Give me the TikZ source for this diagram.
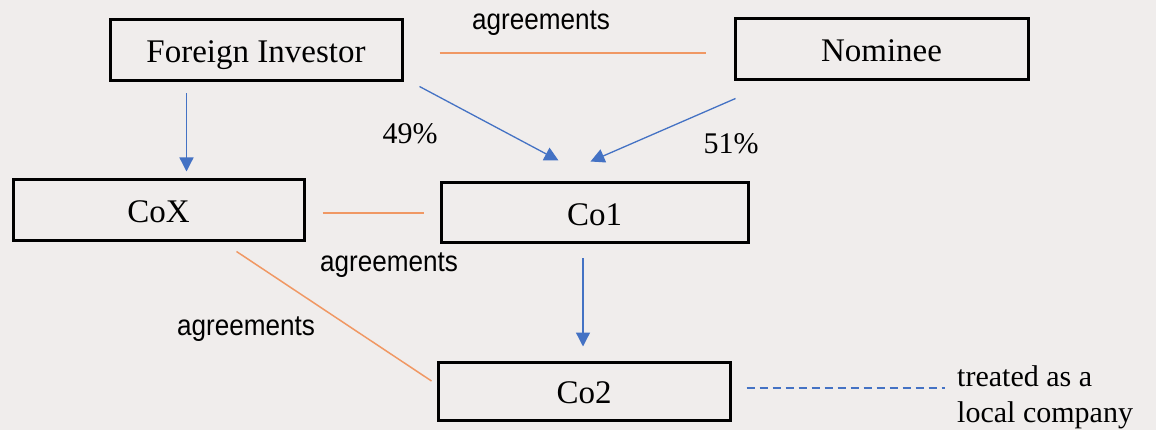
\documentclass[tikz,border=0pt]{standalone}
\usepackage{fontspec}
\setmainfont{Liberation Serif}
\newfontfamily\agfont[FakeStretch=0.9]{Liberation Sans}
\usetikzlibrary{arrows.meta}
\definecolor{bgc}{RGB}{240,237,236}
\definecolor{arrblue}{RGB}{68,114,196}
\definecolor{agorange}{RGB}{240,152,100}
\tikzset{
  box/.style={draw=black, line width=3pt, inner sep=0pt, text height=25pt, text depth=0pt, font=\fontsize{33}{38}\selectfont},
  own/.style={draw=arrblue, line width=1.3pt, -{Triangle[width=14pt,length=14pt]}},
  agree/.style={draw=agorange, line width=1.5pt},
  aglabel/.style={font=\agfont\fontsize{29}{34}\selectfont, anchor=base, inner sep=0pt},
  pct/.style={font=\fontsize{30}{34}\selectfont, anchor=base, inner sep=0pt},
  local/.style={draw=arrblue, line width=2.8pt, dash pattern=on 8pt off 5pt}
}
\begin{document}
\begin{tikzpicture}[x=1pt,y=-1pt]
\fill[bgc] (0,0) rectangle (1156,430);
\useasboundingbox (0,0) rectangle (1156,430);

\node[box, minimum width=292pt, minimum height=61pt] (FI) at (256,50.5) {Foreign Investor};
\node[box, minimum width=293pt, minimum height=61pt] (NOM) at (881.5,49.5) {Nominee};
\node[box, minimum width=291pt, minimum height=61pt] (COX) at (158.5,210.5) {CoX};
\node[box, minimum width=307pt, minimum height=60pt] (CO1) at (594.5,213) {Co1};
\node[box, minimum width=292pt, minimum height=58pt] (CO2) at (584,391) {Co2};

\node[aglabel] (ag1) at (541,30) {agreements};
\node[aglabel] (ag2) at (389,272) {agreements};
\node[aglabel] (ag3) at (246,335) {agreements};
\node[pct] (p49) at (410,144) {49\%};
\node[pct] (p51) at (731,154) {51\%};
\node[font=\fontsize{30}{36}\selectfont, align=left, anchor=west, inner sep=0pt] (TR) at (957,397) {treated as a\\local company};

% ownership arrows
\draw[own] ([xshift=78pt,yshift=-11pt]FI.south west) -- ([xshift=175pt,yshift=7pt]COX.north west);
\draw[own] ([xshift=16pt,yshift=-4pt]FI.south east) -- ([xshift=119pt,yshift=21pt]CO1.north west);
\draw[own] ([xshift=2pt,yshift=-17pt]NOM.south west) -- ([xshift=151pt,yshift=20pt]CO1.north west);
\draw[own] ([xshift=-11.5pt,yshift=-14pt]CO1.south) -- ([xshift=-1pt,yshift=14pt]CO2.north);

% agreements lines
\draw[agree] ([xshift=36pt,yshift=-2.5pt]FI.east) -- ([xshift=-28pt,yshift=-3.5pt]NOM.west);
\draw[agree] ([xshift=17pt,yshift=-2.5pt]COX.east) -- ([xshift=-16pt]CO1.west);
\draw[agree] ([xshift=225pt,yshift=-9pt]COX.south west) -- ([xshift=-5pt,yshift=10pt]CO2.west);

% local company dashed line
\draw[local] ([xshift=15pt,yshift=3pt]CO2.east) -- ([xshift=-12pt,yshift=9pt]TR.west);
\end{tikzpicture}
\end{document}
